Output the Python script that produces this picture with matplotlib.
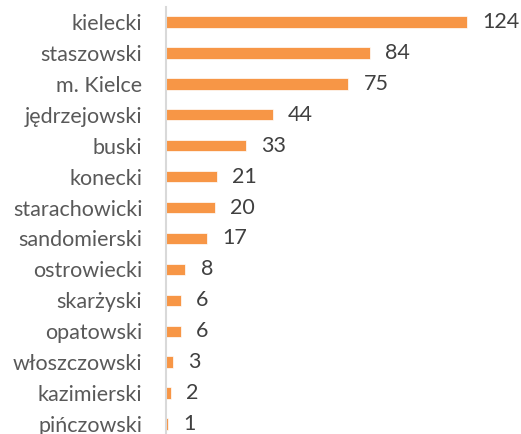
import matplotlib
matplotlib.use("Agg")
import matplotlib.pyplot as plt

categories = ["kielecki", "staszowski", "m. Kielce", "jędrzejowski", "buski", "konecki",
              "starachowicki", "sandomierski", "ostrowiecki", "skarżyski", "opatowski",
              "włoszczowski", "kazimierski", "pińczowski"]
values = [124, 84, 75, 44, 33, 21, 20, 17, 8, 6, 6, 3, 2, 1]

plt.rcParams['font.family'] = ['Lato', 'DejaVu Sans']
fig = plt.figure(figsize=(5.21, 4.34), dpi=100)
ax = fig.add_axes([166/521, -0.0127, (506-166)/521, 0.9977])

y = list(range(len(categories)))
ax.barh(y, values, height=0.37, color="#F79646", edgecolor="white", linewidth=0.5)
ax.set_xlim(0, 140)
ax.set_ylim(len(categories) - 0.5, -0.5)
ax.set_yticks(y)
ax.set_yticklabels(categories, fontsize=15.5, color="#595959")
ax.tick_params(axis='y', length=0, pad=17)
ax.set_xticks([])
for s in ["top", "right", "bottom"]:
    ax.spines[s].set_visible(False)
ax.spines["left"].set_color("#D9D9D9")
ax.spines["left"].set_linewidth(1.5)
for yi, v in zip(y, values):
    ax.annotate(str(v), (v, yi), xytext=(11, 0), textcoords="offset points",
                va="center", ha="left", fontsize=15.5, color="#404040")
fig.savefig("out.png", dpi=100)
